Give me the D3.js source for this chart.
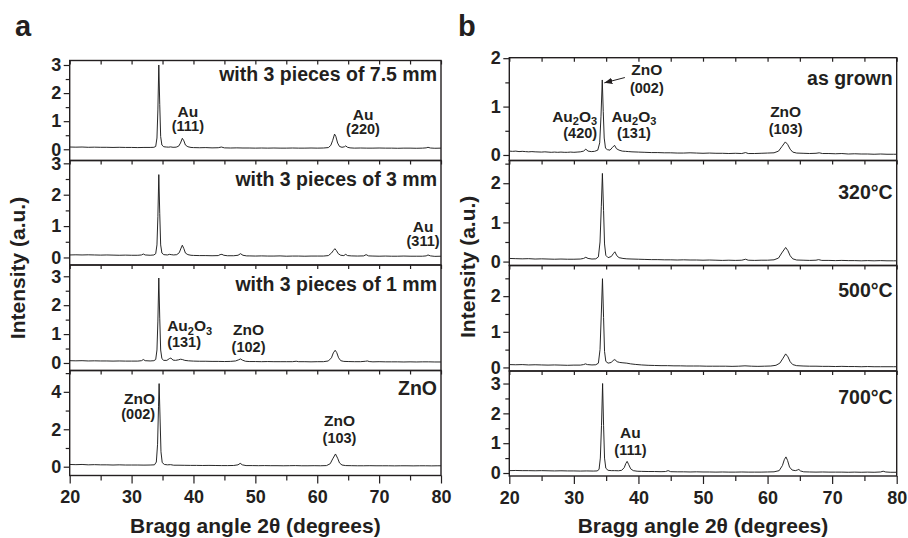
<!DOCTYPE html>
<html>
<head>
<meta charset="utf-8">
<script src="https://cdn.jsdelivr.net/npm/d3@7"></script>
<style>
  body { margin: 0; background: #fff; }
  svg { display: block; }
  text { font-family: "Liberation Sans", Arial, Helvetica, sans-serif; font-weight: bold; fill: #231f20; }
</style>
</head>
<body>
<svg id="chart" width="908" height="538"></svg>
<script>
// ---- XRD scans: [2θ (deg), intensity (a.u.)] ----
const scanA1 = [[20,.08],[21,.075],[22,.08],[23,.07],[24,.075],[25,.07],[26,.07],[27,.065],[28,.07],[29,.065],[30,.065],[31,.06],[32,.065],[33,.065],[33.6,.07],[33.9,.1],[34.1,.4],[34.25,1.4],[34.4,3.0],[34.55,1.6],[34.7,.45],[34.9,.15],[35.2,.09],[35.6,.08],[36,.075],[36.3,.085],[36.7,.07],[37.2,.075],[37.6,.11],[37.9,.22],[38.2,.39],[38.45,.3],[38.7,.15],[39.1,.09],[39.6,.065],[40,.06],[41,.055],[42,.06],[43,.05],[44,.055],[44.5,.08],[45,.05],[46,.045],[47,.05],[48,.045],[49,.045],[50,.04],[51,.045],[52,.04],[53,.045],[54,.04],[55,.04],[56,.045],[57,.04],[58,.04],[59,.045],[60,.04],[61,.045],[61.8,.06],[62.2,.14],[62.5,.32],[62.8,.54],[63,.46],[63.3,.22],[63.6,.1],[64,.07],[64.4,.09],[64.6,.12],[64.9,.07],[65.3,.05],[66,.04],[67,.045],[68,.04],[69,.04],[70,.045],[71,.04],[72,.04],[73,.035],[74,.04],[75,.04],[76,.035],[77,.04],[77.6,.05],[77.9,.07],[78.3,.045],[79,.035],[80,.04]];
const scanA2 = [[20,.08],[21,.085],[22,.08],[23,.085],[24,.08],[25,.075],[26,.08],[27,.075],[28,.07],[29,.075],[30,.07],[31,.07],[31.6,.08],[31.9,.11],[32.2,.08],[33,.07],[33.6,.08],[33.9,.12],[34.1,.4],[34.25,1.3],[34.4,2.64],[34.55,1.4],[34.7,.4],[34.9,.14],[35.2,.09],[35.8,.08],[36.1,.1],[36.4,.09],[36.8,.08],[37.3,.09],[37.7,.15],[38,.3],[38.2,.39],[38.45,.28],[38.7,.14],[39.1,.09],[39.6,.07],[40,.065],[41,.06],[42,.06],[43,.055],[44,.06],[44.3,.09],[44.6,.1],[44.9,.07],[45.5,.055],[46.5,.055],[47.2,.07],[47.6,.12],[48,.07],[48.6,.05],[49,.05],[50,.045],[51,.05],[52,.045],[53,.045],[54,.05],[55,.04],[56,.045],[57,.045],[58,.04],[59,.045],[60,.045],[61,.045],[61.8,.06],[62.3,.14],[62.6,.22],[62.85,.28],[63.1,.22],[63.4,.12],[63.8,.07],[64.3,.06],[64.6,.1],[64.9,.06],[65.5,.05],[66.5,.045],[67.5,.05],[67.9,.09],[68.3,.05],[69,.045],[70,.04],[71,.045],[72,.04],[73,.04],[74,.045],[75,.04],[76,.04],[77,.04],[77.6,.05],[77.9,.08],[78.3,.05],[79,.035],[80,.04]];
const scanA3 = [[20,.08],[21,.075],[22,.08],[23,.07],[24,.075],[25,.07],[26,.07],[27,.065],[28,.07],[29,.065],[30,.065],[31,.065],[31.6,.08],[31.9,.12],[32.2,.08],[33,.07],[33.6,.08],[33.9,.12],[34.1,.45],[34.25,1.45],[34.4,2.94],[34.55,1.55],[34.7,.45],[34.9,.15],[35.2,.09],[35.7,.09],[36.1,.15],[36.35,.17],[36.7,.1],[37.1,.09],[37.6,.11],[37.9,.13],[38.2,.12],[38.6,.09],[39.2,.075],[40,.065],[41,.06],[42,.06],[43,.055],[44,.055],[45,.05],[46,.055],[46.8,.07],[47.3,.11],[47.6,.14],[47.9,.1],[48.4,.06],[49,.05],[50,.05],[51,.045],[52,.05],[53,.045],[54,.045],[55,.045],[56,.045],[56.6,.06],[57,.045],[58,.045],[59,.04],[60,.045],[61,.045],[61.8,.07],[62.3,.18],[62.6,.35],[62.9,.44],[63.15,.36],[63.45,.18],[63.8,.08],[64.3,.055],[65,.05],[66,.045],[67,.045],[67.8,.06],[68.1,.07],[68.4,.05],[69,.04],[70,.045],[71,.04],[72,.04],[73,.04],[74,.035],[75,.04],[76,.035],[77,.04],[78,.04],[79,.035],[80,.035]];
const scanA4 = [[20,.12],[21,.11],[22,.12],[23,.1],[24,.11],[25,.1],[26,.1],[27,.09],[28,.1],[29,.09],[30,.09],[31,.09],[32,.085],[33,.09],[33.7,.1],[34,.25],[34.2,1.2],[34.35,3.2],[34.45,4.44],[34.6,2.6],[34.75,.8],[34.95,.22],[35.3,.12],[35.8,.1],[36.3,.11],[36.8,.08],[37.5,.08],[38.5,.075],[39.5,.07],[40.5,.07],[41.5,.065],[42.5,.07],[43.5,.065],[44.5,.06],[45.5,.06],[46.5,.065],[47.2,.1],[47.55,.18],[47.9,.1],[48.5,.06],[49.5,.06],[50.5,.055],[51.5,.06],[52.5,.055],[53.5,.055],[54.5,.05],[55.5,.055],[56.5,.06],[57.5,.05],[58.5,.05],[59.5,.055],[60.5,.05],[61.5,.06],[62.1,.16],[62.5,.42],[62.95,.68],[63.3,.45],[63.6,.2],[64,.09],[64.6,.06],[65.5,.055],[66.5,.05],[67.5,.05],[68.5,.055],[69.5,.05],[70.5,.05],[71.5,.05],[72.5,.045],[73.5,.05],[74.5,.05],[75.5,.045],[76.5,.05],[77.5,.05],[78.5,.045],[79.5,.05],[80,.05]];

const scanB1 = [[20,.08],[20.5,.075],[21,.08],[21.5,.07],[22,.075],[22.5,.07],[23,.065],[23.5,.07],[24,.065],[25,.06],[25.5,.065],[26,.06],[26.5,.055],[27,.06],[27.5,.055],[28,.06],[28.5,.055],[29,.055],[29.5,.06],[30,.055],[30.5,.06],[31,.065],[31.5,.08],[31.85,.12],[32.2,.08],[32.7,.07],[33.2,.075],[33.7,.1],[34,.25],[34.2,.8],[34.4,1.55],[34.55,.9],[34.7,.35],[34.9,.14],[35.2,.11],[35.6,.1],[36,.16],[36.3,.2],[36.6,.13],[37,.1],[37.5,.08],[38,.075],[38.5,.07],[39,.065],[40,.06],[41,.055],[42,.05],[43,.05],[44,.045],[45,.045],[46,.04],[47,.04],[48,.045],[49,.04],[50,.035],[51,.04],[52,.035],[53,.035],[54,.03],[55,.035],[56,.03],[56.6,.05],[57,.03],[58,.03],[59,.035],[60,.04],[61,.045],[61.7,.08],[62.2,.17],[62.75,.27],[63.1,.22],[63.5,.12],[63.9,.06],[64.5,.04],[65.5,.035],[66.5,.03],[67.5,.035],[68,.045],[68.5,.03],[69.5,.03],[70.5,.025],[71.5,.03],[72.5,.02],[73.5,.025],[74.5,.02],[75.5,.02],[76.5,.015],[77.5,.02],[78.5,.015],[79.5,.015],[80,.015]];
const scanB2 = [[20,.08],[21,.075],[22,.07],[23,.075],[24,.065],[25,.07],[26,.065],[27,.06],[28,.065],[29,.06],[30,.06],[31,.065],[31.5,.08],[31.85,.11],[32.2,.08],[32.8,.065],[33.4,.07],[33.8,.12],[34.05,.5],[34.25,1.4],[34.42,2.25],[34.6,1.3],[34.75,.45],[34.95,.16],[35.3,.1],[35.8,.13],[36.1,.2],[36.35,.25],[36.65,.15],[37,.1],[37.6,.08],[38.2,.07],[39,.065],[40,.06],[41,.055],[42,.05],[43,.05],[44,.045],[45,.045],[46,.04],[47,.045],[48,.04],[49,.04],[50,.035],[51,.04],[52,.035],[53,.03],[54,.035],[55,.03],[56,.035],[56.6,.06],[57,.035],[58,.03],[59,.035],[60,.035],[61,.045],[61.7,.09],[62.2,.22],[62.8,.36],[63.15,.28],[63.5,.15],[63.9,.07],[64.5,.04],[65.5,.035],[66.5,.03],[67.5,.035],[67.9,.05],[68.4,.03],[69.5,.03],[70.5,.025],[71.5,.03],[72.5,.025],[73.5,.025],[74.5,.02],[75.5,.025],[76.5,.02],[77.5,.025],[78.5,.02],[79.5,.02],[80,.02]];
const scanB3 = [[20,.08],[21,.075],[22,.08],[23,.07],[24,.075],[25,.07],[26,.065],[27,.07],[28,.065],[29,.06],[30,.065],[31,.065],[31.5,.08],[31.8,.1],[32.1,.08],[32.8,.07],[33.4,.075],[33.8,.12],[34.05,.5],[34.25,1.5],[34.43,2.49],[34.6,1.4],[34.75,.45],[34.95,.17],[35.3,.12],[35.8,.14],[36.1,.2],[36.35,.22],[36.7,.16],[37.1,.14],[37.6,.13],[38.2,.12],[38.8,.1],[39.5,.085],[40.5,.07],[41.5,.06],[42.5,.055],[43.5,.05],[44.5,.05],[45.5,.045],[46.5,.045],[47.5,.04],[48.5,.04],[49.5,.04],[50.5,.035],[51.5,.035],[52.5,.035],[53.5,.035],[54.5,.03],[55.5,.035],[56.5,.045],[57.5,.035],[58.5,.03],[59.5,.035],[60.5,.04],[61.3,.06],[61.9,.12],[62.4,.26],[62.8,.38],[63.15,.3],[63.5,.16],[63.9,.08],[64.5,.05],[65.5,.04],[66.5,.035],[67.5,.035],[68.5,.03],[69.5,.03],[70.5,.025],[71.5,.03],[72.5,.025],[73.5,.025],[74.5,.02],[75.5,.025],[76.5,.02],[77.5,.02],[78.5,.02],[79.5,.02],[80,.02]];
const scanB4 = [[20,.08],[21,.085],[22,.08],[23,.08],[24,.075],[25,.08],[26,.075],[27,.07],[28,.075],[29,.07],[30,.07],[31,.065],[32,.07],[33,.065],[33.6,.07],[33.9,.12],[34.1,.5],[34.28,1.6],[34.45,3.0],[34.6,1.6],[34.75,.5],[34.95,.16],[35.3,.09],[35.8,.08],[36.3,.08],[36.9,.075],[37.4,.09],[37.8,.18],[38.05,.32],[38.25,.39],[38.5,.28],[38.8,.14],[39.2,.08],[39.8,.06],[40.5,.055],[41.5,.05],[42.5,.05],[43.5,.045],[44.2,.05],[44.6,.08],[45,.045],[46,.04],[47,.04],[48,.035],[49,.04],[50,.035],[51,.035],[52,.03],[53,.035],[54,.03],[55,.03],[56,.035],[57,.03],[58,.03],[59,.03],[60,.035],[61,.04],[61.8,.08],[62.3,.25],[62.6,.45],[62.85,.54],[63.1,.42],[63.4,.2],[63.8,.1],[64.3,.08],[64.6,.1],[64.85,.12],[65.1,.07],[65.6,.04],[66.5,.035],[67.5,.03],[68.5,.035],[69.5,.03],[70.5,.03],[71.5,.03],[72.5,.025],[73.5,.03],[74.5,.025],[75.5,.03],[76.5,.025],[77.5,.035],[77.9,.06],[78.3,.035],[79,.025],[80,.025]];

// ---- sample names and tick values ----
const samplesA = ["with 3 pieces of 7.5 mm", "with 3 pieces of 3 mm", "with 3 pieces of 1 mm", "ZnO"];
const samplesB = ["as grown", "320°C", "500°C", "700°C"];
const angleTicks = [20, 30, 40, 50, 60, 70, 80];
const angleMinorTicks = [25, 35, 45, 55, 65, 75];
const yMajorA = [[0, 1, 2, 3], [0, 1, 2, 3], [0, 1, 2, 3], [0, 2, 4]];
const yMinorA = [[0.5, 1.5, 2.5], [0.5, 1.5, 2.5], [0.5, 1.5, 2.5], [1, 3, 5]];
const yMajorB = [[0, 1, 2], [0, 1, 2], [0, 1, 2], [0, 1, 2, 3]];
const yMinorB = [[0.5, 1.5], [0.5, 1.5, 2.5], [0.5, 1.5, 2.5], [0.5, 1.5, 2.5]];

// ---- layout ----
const panels = [
  {
    letter: "a", letterX: 15, left: 69.7, right: 441, yTitleX: 25,
    frames: [60.5, 160.5, 265, 370.5, 475.5],
    domains: [[-0.40, 3.16], [-0.24, 3.09], [-0.26, 3.39], [-0.47, 5.14]],
    scans: [scanA1, scanA2, scanA3, scanA4], names: samplesA,
    nameY: [2.43, 2.27, 2.48, 3.85], majors: yMajorA, minors: yMinorA
  },
  {
    letter: "b", letterX: 458, left: 509.3, right: 896.7, yTitleX: 475,
    frames: [57.7, 160.5, 265.5, 371, 476],
    domains: [[-0.114, 2.01], [-0.10, 2.58], [-0.10, 2.86], [-0.10, 3.42]],
    scans: [scanB1, scanB2, scanB3, scanB4], names: samplesB,
    nameY: [1.45, 1.61, 1.97, 2.33], majors: yMajorB, minors: yMinorB
  }
];

// Peak labels: [panel, subplot, 2θ, intensity, anchor, line1 parts, line2, line-gap px]
const peakLabels = [
  [0, 0, 39.1, 1.15, "middle", [["Au"]], "(111)", 14],
  [0, 0, 67.4, 1.04, "middle", [["Au"]], "(220)", 14],
  [0, 1, 77.1, 0.81, "middle", [["Au"]], "(311)", 13.5],
  [0, 2, 35.75, 1.09, "start", [["Au"], ["2", 1], ["O"], ["3", 1]], "(131)", 15.5],
  [0, 2, 48.9, 0.98, "middle", [["ZnO"]], "(102)", 17],
  [0, 3, 33.8, 3.35, "end", [["ZnO"]], "(002)", 14.5],
  [0, 3, 63.6, 2.16, "middle", [["ZnO"]], "(103)", 16.5],
  [1, 0, 41.3, 1.66, "middle", [["ZnO"]], "(002)", 18],
  [1, 0, 33.6, 0.69, "end", [["Au"], ["2", 1], ["O"], ["3", 1]], "(420)", 16.6],
  [1, 0, 39.3, 0.69, "middle", [["Au"], ["2", 1], ["O"], ["3", 1]], "(131)", 16.6],
  [1, 0, 62.8, 0.79, "middle", [["ZnO"]], "(103)", 17.3],
  [1, 3, 38.76, 1.17, "middle", [["Au"]], "(111)", 16.7]
];
// Arrow from the ZnO (002) label to the as-grown peak: [from 2θ, from I, to 2θ, to I]
const arrowB = [37.9, 1.60, 34.72, 1.49];

const svg = d3.select("#chart");
const ink = "#231f20";
const defs = svg.append("defs");

defs.append("marker")
  .attr("id", "arrowhead").attr("viewBox", "0 0 10 8")
  .attr("refX", 10).attr("refY", 4)
  .attr("markerWidth", 8).attr("markerHeight", 6.4)
  .attr("markerUnits", "userSpaceOnUse").attr("orient", "auto")
  .append("path").attr("d", "M0,0 L10,4 L0,8 Z").attr("fill", ink);

const subplotScales = [];

panels.forEach((p, pi) => {
  const x = d3.scaleLinear().domain([20, 80]).range([p.left, p.right]);
  subplotScales[pi] = [];

  p.scans.forEach((scan, si) => {
    const top = p.frames[si], bottom = p.frames[si + 1];
    const y = d3.scaleLinear().domain(p.domains[si]).range([bottom, top]);
    subplotScales[pi][si] = { x, y };
    const g = svg.append("g");

    const clipId = `clip-${pi}-${si}`;
    defs.append("clipPath").attr("id", clipId)
      .append("rect").attr("x", p.left).attr("y", top)
      .attr("width", p.right - p.left).attr("height", bottom - top);

    // diffraction pattern
    g.append("path")
      .datum(scan)
      .attr("clip-path", `url(#${clipId})`)
      .attr("fill", "none")
      .attr("stroke", "#1c1c1c")
      .attr("stroke-width", 0.95)
      .attr("stroke-linejoin", "round")
      .attr("d", d3.line().x(d => x(d[0])).y(d => y(d[1])));

    // frame
    g.append("rect")
      .attr("x", p.left).attr("y", top)
      .attr("width", p.right - p.left).attr("height", bottom - top)
      .attr("fill", "none").attr("stroke", ink).attr("stroke-width", 1.4);

    // y axis: labelled majors and short minors
    g.append("g").attr("class", "yaxis").attr("transform", `translate(${p.left},0)`)
      .call(d3.axisLeft(y).tickValues(p.majors[si]).tickSize(6).tickPadding(2.5)
        .tickFormat(d3.format("d")));
    g.append("g").attr("transform", `translate(${p.left},0)`)
      .call(d3.axisLeft(y).tickValues(p.minors[si]).tickSize(4).tickFormat(""));

    // inward ticks along the top edge every 5°
    g.append("g").attr("transform", `translate(0,${top})`)
      .call(d3.axisBottom(x).tickValues(d3.merge([angleTicks, angleMinorTicks])).tickSize(4).tickFormat(""));

    // bottom axis on the last subplot
    if (si === p.scans.length - 1) {
      g.append("g").attr("class", "xaxis").attr("transform", `translate(0,${bottom})`)
        .call(d3.axisBottom(x).tickValues(angleTicks).tickSize(8).tickPadding(7)
          .tickFormat(d3.format("d")));
      g.append("g").attr("transform", `translate(0,${bottom})`)
        .call(d3.axisBottom(x).tickValues(angleMinorTicks).tickSize(5).tickFormat(""));
    }

    g.selectAll(".domain").remove();
    g.selectAll(".tick line").attr("stroke", ink).attr("stroke-width", 1.2);
    g.selectAll(".tick text")
      .attr("fill", ink).attr("font-size", 18)
      .attr("font-family", '"Liberation Sans", Arial, sans-serif')
      .attr("font-weight", "bold");

    // sample name
    g.append("text")
      .attr("x", p.right - 4).attr("y", y(p.nameY[si]))
      .attr("text-anchor", "end").attr("font-size", 19.5)
      .text(p.names[si]);
  });

  // panel letter
  svg.append("text").attr("x", p.letterX).attr("y", 36)
    .attr("font-size", 29).text(p.letter);

  // axis titles
  svg.append("text")
    .attr("x", (p.left + p.right) / 2).attr("y", 533)
    .attr("text-anchor", "middle").attr("font-size", 21)
    .text("Bragg angle 2θ (degrees)");
  const midY = (p.frames[0] + p.frames[p.frames.length - 1]) / 2;
  svg.append("text")
    .attr("transform", `translate(${p.yTitleX},${midY}) rotate(-90)`)
    .attr("text-anchor", "middle").attr("font-size", 21)
    .text("Intensity (a.u.)");
});

// peak assignments (subscripts drawn as lowered, smaller tspans)
const subDrop = 3.5;
peakLabels.forEach(([pi, si, a, v, anchor, parts, hkl, gap]) => {
  const { x, y } = subplotScales[pi][si];
  const t = svg.append("text")
    .attr("x", x(a)).attr("y", y(v))
    .attr("text-anchor", anchor).attr("font-size", 15.5);
  let lowered = false;
  parts.forEach(([s, sub]) => {
    const isSub = !!sub;
    const dy = isSub === lowered ? 0 : (isSub ? subDrop : -subDrop);
    lowered = isSub;
    t.append("tspan")
      .attr("font-size", isSub ? 11 : 15.5)
      .attr("dy", dy)
      .text(s);
  });
  svg.append("text")
    .attr("x", x(a)).attr("y", y(v) + gap)
    .attr("text-anchor", anchor).attr("font-size", 14.5)
    .text(hkl);
});

// arrow to the ZnO (002) peak in the as-grown pattern
{
  const { x, y } = subplotScales[1][0];
  svg.append("line")
    .attr("x1", x(arrowB[0])).attr("y1", y(arrowB[1]))
    .attr("x2", x(arrowB[2])).attr("y2", y(arrowB[3]))
    .attr("stroke", ink).attr("stroke-width", 1)
    .attr("marker-end", "url(#arrowhead)");
}
</script>
</body>
</html>
